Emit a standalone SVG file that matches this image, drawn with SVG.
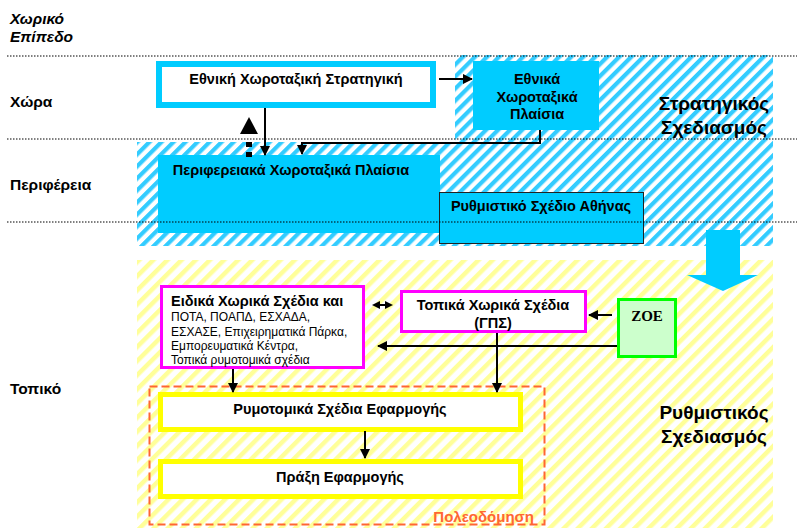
<svg xmlns="http://www.w3.org/2000/svg" width="797" height="528" viewBox="0 0 797 528">
<style>
text{font-family:"Liberation Sans",Arial,sans-serif;font-weight:bold;fill:#000}
.lbl{font-size:15.5px}
.box{font-size:14.5px}
.big{font-size:19px}
.sm{font-size:12px;font-weight:normal}
.dot{stroke:#000;stroke-width:1;stroke-dasharray:1.5,1.5}
.con{stroke:#000;stroke-width:2;fill:none}
</style>
<defs>
<pattern id="hc" width="8.5" height="8.5" patternUnits="userSpaceOnUse" patternTransform="rotate(45)">
<rect width="8.5" height="8.5" fill="#fff"/><rect width="4.2" height="8.5" fill="#33ccff"/>
</pattern>
<pattern id="hy" width="10" height="10" patternUnits="userSpaceOnUse" patternTransform="rotate(45)">
<rect width="10" height="10" fill="#fff"/><rect width="4.5" height="10" fill="#ffff99"/>
</pattern>
<marker id="ah" viewBox="0 0 10 10" refX="9" refY="5" markerWidth="5" markerHeight="5" orient="auto-start-reverse">
<path d="M0,0L10,5L0,10z" fill="#000"/>
</marker>
</defs>
<rect width="797" height="528" fill="#fff"/>
<g id="hatch-strategic">
<rect x="455" y="55" width="318" height="90" fill="url(#hc)"/>
<rect x="137" y="142" width="636" height="104" fill="url(#hc)"/>
</g>
<g id="hatch-regulatory">
<rect x="137" y="260" width="636" height="268" fill="url(#hy)"/>
</g>
<g id="levels">
<text x="10" y="24" class="lbl" font-style="italic">Χωρικό</text>
<text x="10" y="42" class="lbl" font-style="italic">Επίπεδο</text>
<text x="10" y="107" class="lbl">Χώρα</text>
<text x="10" y="190" class="lbl">Περιφέρεια</text>
<text x="10" y="394" class="lbl">Τοπικό</text>
</g>
<g id="n-peri">
<rect x="158" y="155" width="282" height="78" fill="#00ccff"/>
<text x="291" y="175" class="box" text-anchor="middle">Περιφερειακά Χωροταξικά Πλαίσια</text>
</g>
<g id="n-athens">
<rect x="439.5" y="192.5" width="204" height="51" fill="#00ccff" stroke="#222" stroke-width="1"/>
<text x="541" y="211" class="box" text-anchor="middle">Ρυθμιστικό Σχέδιο Αθήνας</text>
</g>
<g id="dotted-lines">
<line x1="7" y1="56" x2="797" y2="56" class="dot"/>
<line x1="7" y1="139" x2="797" y2="139" class="dot"/>
<line x1="7" y1="222" x2="797" y2="222" class="dot"/>
</g>
<g id="n-national">
<rect x="159" y="64" width="274" height="41" fill="#fff" stroke="#00ccff" stroke-width="6"/>
<text x="296" y="84" class="box" text-anchor="middle">Εθνική Χωροταξική Στρατηγική</text>
</g>
<g id="n-natframe">
<rect x="473" y="61" width="126" height="69" fill="#00ccff"/>
<text x="537" y="84" class="box" text-anchor="middle">Εθνικά</text>
<text x="537" y="102" class="box" text-anchor="middle">Χωροταξικά</text>
<text x="537" y="119" class="box" text-anchor="middle">Πλαίσια</text>
</g>
<g id="t-strategic">
<text x="714" y="110" class="big" text-anchor="middle">Στρατηγικός</text>
<text x="714" y="134" class="big" text-anchor="middle">Σχεδιασμός</text>
</g>
<g id="big-arrow">
<path d="M706,230H740V275H758L723,291L687,275H706Z" fill="#00ccff"/>
</g>
<g id="n-special">
<rect x="161.5" y="286.5" width="202" height="81" fill="#fff" stroke="#ff00ff" stroke-width="3"/>
<text x="171" y="306" class="box">Ειδικά Χωρικά Σχέδια και</text>
<text x="171" y="321" class="sm">ΠΟΤΑ, ΠΟΑΠΔ, ΕΣΧΑΔΑ,</text>
<text x="171" y="335.5" class="sm">ΕΣΧΑΣΕ, Επιχειρηματικά Πάρκα,</text>
<text x="171" y="350" class="sm">Εμπορευματικά Κέντρα,</text>
<text x="171" y="364" class="sm">Τοπικά ρυμοτομικά σχέδια</text>
</g>
<g id="n-local">
<rect x="401.5" y="291.5" width="184" height="40" fill="#fff" stroke="#ff00ff" stroke-width="3"/>
<text x="493" y="310" class="box" text-anchor="middle">Τοπικά Χωρικά Σχέδια</text>
<text x="493" y="328" class="box" text-anchor="middle">(ΓΠΣ)</text>
</g>
<g id="n-zoe">
<rect x="618.5" y="299.5" width="57" height="57" fill="#ccffcc" stroke="#00ff00" stroke-width="3"/>
<text x="647" y="321" text-anchor="middle" style="font-family:'Liberation Serif',serif;font-size:15px">ΖΟΕ</text>
</g>
<g id="n-urban">
<rect x="149.5" y="386.5" width="395" height="138" fill="none" stroke="#ff6633" stroke-width="2" stroke-dasharray="8,4"/>
<text x="534" y="522" text-anchor="end" style="fill:#ff6633;font-size:15px">Πολεοδόμηση</text>
</g>
<g id="n-ryme">
<rect x="160.5" y="394.5" width="360" height="35" fill="#fff" stroke="#ffff00" stroke-width="5"/>
<text x="340" y="414" class="box" text-anchor="middle">Ρυμοτομικά Σχέδια Εφαρμογής</text>
</g>
<g id="n-praxi">
<rect x="160.5" y="461.5" width="360" height="35" fill="#fff" stroke="#ffff00" stroke-width="5"/>
<text x="340" y="482" class="box" text-anchor="middle">Πράξη Εφαρμογής</text>
</g>
<g id="t-regulatory">
<text x="714" y="419" class="big" text-anchor="middle">Ρυθμιστικός</text>
<text x="714" y="443" class="big" text-anchor="middle">Σχεδιασμός</text>
</g>
<g id="connectors">
<line x1="439" y1="79" x2="472" y2="79" class="con" marker-end="url(#ah)"/>
<polyline points="540,130 540,143 302,143 302,154" class="con" marker-end="url(#ah)"/>
<line x1="265" y1="108" x2="265" y2="155" class="con" marker-end="url(#ah)"/>
<rect x="246" y="142" width="6" height="5" fill="#000"/>
<rect x="246" y="152" width="6" height="5" fill="#000"/>
<path d="M249,117L258,134H240Z" fill="#000"/>
<line x1="377" y1="305" x2="388" y2="305" class="con"/>
<path d="M372,305L380,301V309Z M393,305L385,301V309Z" fill="#000"/>
<line x1="612" y1="315" x2="589" y2="315" class="con" marker-end="url(#ah)"/>
<line x1="617" y1="346" x2="378" y2="346" class="con" marker-end="url(#ah)"/>
<line x1="497" y1="333" x2="497" y2="392" class="con" marker-end="url(#ah)"/>
<line x1="233" y1="369" x2="233" y2="392" class="con" marker-end="url(#ah)"/>
<line x1="365" y1="431" x2="365" y2="458" class="con" marker-end="url(#ah)"/>
</g>
</svg>
